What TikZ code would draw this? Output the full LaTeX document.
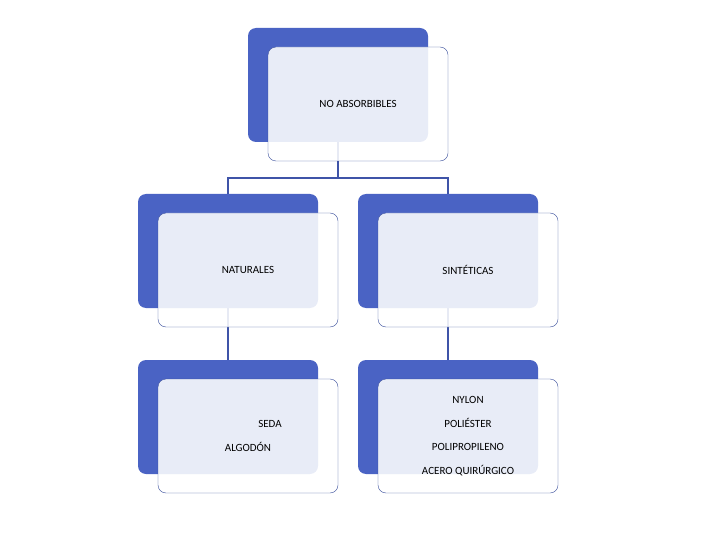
\documentclass[tikz,border=0pt]{standalone}
\usepackage{fontspec}
\setmainfont{Carlito}
\usetikzlibrary{positioning}
\definecolor{backblue}{HTML}{4A63C4}
\definecolor{edgeblue}{HTML}{3A4F9C}
\definecolor{linkblue}{HTML}{3F54A8}
\tikzset{
	backbox/.style={fill=backblue, rounded corners=8pt, minimum width=180pt, minimum height=114pt, inner sep=0pt},
	frontbox/.style={draw=edgeblue, fill=white, fill opacity=0.88, text opacity=1, rounded corners=8pt, minimum width=180pt, minimum height=114pt, inner sep=0pt, align=center, font=\fontsize{11}{23.5}\selectfont},
	link/.style={linkblue, line width=2pt}
}
\begin{document}
\begin{tikzpicture}[x=1pt,y=-1pt]
		\useasboundingbox (0,0) rectangle (720,540);

		% back boxes
		\node[backbox] (topb) at (338,85) {};
		\node[backbox] (natb) at (228,251) {};
		\node[backbox] (sinb) at (448,251) {};
		\node[backbox] (natlb) at (228,417) {};
		\node[backbox] (sinlb) at (448,417) {};

		% connectors
		\coordinate (split) at (338,178);
		\draw[link] (topb.south) -- (split);
		\draw[link] (split) -| (natb.north);
		\draw[link] (split) -| (sinb.north);
		\draw[link] (natb.south) -- (natlb.north);
		\draw[link] (sinb.south) -- (sinlb.north);

		% front boxes
		\node[frontbox] (top) at (358,104) {NO ABSORBIBLES};
		\node[frontbox] (nat) at (248,270) {NATURALES};
		\node[frontbox] (sin) at (468,270) {SINTÉTICAS};
		\node[frontbox] (natl) at (248,436) {\hspace*{44pt}SEDA\\ALGODÓN\hspace*{0pt}};
		\node[frontbox] (sinl) at (468,436) {NYLON\\POLIÉSTER\\POLIPROPILENO\\ACERO QUIRÚRGICO};
	\end{tikzpicture}
\end{document}
